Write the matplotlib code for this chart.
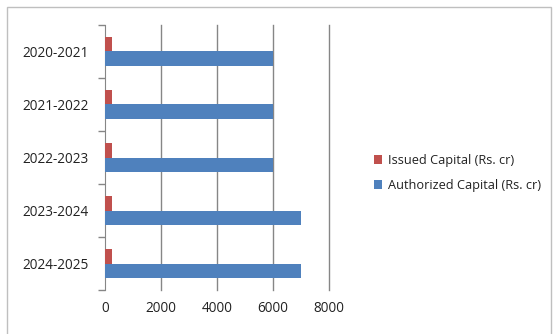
import matplotlib
matplotlib.use("Agg")
import matplotlib.pyplot as plt
from matplotlib.patches import Rectangle
import numpy as np

categories = ["2020-2021", "2021-2022", "2022-2023", "2023-2024", "2024-2025"]
issued = [250, 250, 250, 250, 250]
authorized = [6000, 6000, 6000, 7000, 7000]
xticks = [0, 2000, 4000, 6000, 8000]

plt.rcParams['font.family'] = ['Open Sans', 'DejaVu Sans']
W, H = 555, 334
fig = plt.figure(figsize=(W/100, H/100), dpi=100)
fig.patches.append(Rectangle((7/W, -0.1), (551-7)/W, (H-7)/H + 0.1, transform=fig.transFigure,
                             fill=False, edgecolor='#bfbfbf', linewidth=1))

ax = fig.add_axes([105/W, 1-290/H, (329-105)/W, (290-25)/H])
n = len(categories)
y = np.arange(n)[::-1].astype(float)
h = 0.28
red = '#c0504d'
blue = '#4f81bd'
ax.barh(y + h/2, issued, height=h, color=red, label='Issued Capital (Rs. cr)', zorder=3)
ax.barh(y - h/2, authorized, height=h, color=blue, label='Authorized Capital (Rs. cr)', zorder=3)

ax.set_xlim(0, 8000)
ax.set_ylim(-0.5, n - 0.5)
ax.set_xticks(xticks)
ax.set_xticklabels([str(v) for v in xticks], fontsize=9.8, color='#222222')
ax.set_yticks(y)
ax.set_yticklabels(categories, fontsize=9.8, color='#222222')
ax.set_yticks(np.arange(n + 1) - 0.5, minor=True)
ax.tick_params(axis='y', which='major', length=0, pad=12)
ax.tick_params(axis='y', which='minor', length=5, color='#868686', width=1)
ax.tick_params(axis='x', length=0, pad=8)
for xv in xticks[1:]:
    ax.axvline(xv, color='#868686', linewidth=1, zorder=0, clip_on=False)
for s in ['top', 'right', 'bottom']:
    ax.spines[s].set_visible(False)
ax.spines['left'].set_color('#868686')

handles, labels = ax.get_legend_handles_labels()
fig.legend(handles, labels, loc='center left', bbox_to_anchor=(362/W, 1-173/H),
           frameon=False, fontsize=9.2, handlelength=0.7, handleheight=0.7,
           handletextpad=0.4, labelspacing=1.0, labelcolor='#222222')

fig.savefig('out.png', dpi=100)
